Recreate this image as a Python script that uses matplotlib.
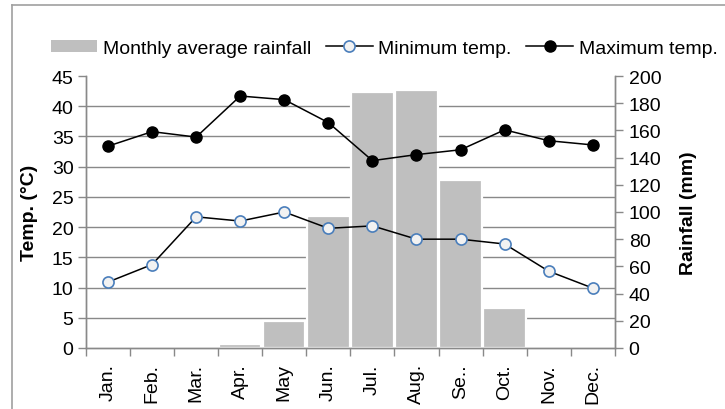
import matplotlib.pyplot as plt
import numpy as np
from matplotlib.lines import Line2D
from matplotlib.patches import Patch

plt.rcParams['font.family'] = ['Liberation Sans', 'DejaVu Sans']

months = ['Jan.', 'Feb.', 'Mar.', 'Apr.', 'May', 'Jun.', 'Jul.', 'Aug.', 'Se..', 'Oct.', 'Nov.', 'Dec.']
rainfall = [0, 0, 0, 3, 20, 97, 188, 190, 123.5, 29.5, 0, 0]
min_temp = [10.9, 13.8, 21.7, 21.0, 22.5, 19.8, 20.2, 18.0, 18.0, 17.2, 12.7, 9.9]
max_temp = [33.4, 35.8, 34.9, 41.7, 41.1, 37.3, 31.0, 32.0, 32.8, 36.1, 34.3, 33.6]

gray = '#898989'
fs = 14
x = np.arange(len(months))

fig = plt.figure(figsize=(7.25, 4.1), dpi=100)
ax1 = fig.add_axes([0.1186, 0.149, 0.7294, 0.663])
ax2 = ax1.twinx()

# bars on the rainfall axis, behind the temperature lines
ax2.bar(x, rainfall, width=0.96, color='#BFBFBF', edgecolor='white', linewidth=1.6, zorder=2)
ax2.set_ylim(0, 200)
ax2.set_yticks(np.arange(0, 201, 20))
ax2.set_yticks(np.linspace(0, 200, 10), minor=True)
ax2.grid(True, which='minor', color=gray, linewidth=1.0, zorder=0)
ax2.set_axisbelow(True)
ax2.tick_params(axis='y', which='minor', length=0)
ax2.tick_params(axis='y', which='major', direction='out', length=6, color=gray, width=1.0,
                labelsize=fs, pad=4)
ax2.set_ylabel('Rainfall (mm)', fontsize=fs, fontweight='bold')
ax2.yaxis.set_label_coords(1.124, 0.5)

ax1.set_zorder(ax2.get_zorder() + 1)
ax1.patch.set_visible(False)
ax1.plot(x, min_temp, color='black', linewidth=1.1, marker='o', markersize=8,
         markerfacecolor='#F2F2F2', markeredgecolor='#4A7EBB', markeredgewidth=1.2)
ax1.plot(x, max_temp, color='black', linewidth=1.1, marker='o', markersize=8,
         markerfacecolor='black', markeredgecolor='black')
ax1.set_ylim(0, 45)
ax1.set_yticks(np.arange(0, 46, 5))
ax1.set_xlim(-0.5, 11.5)
ax1.set_xticks(x)
ax1.set_xticklabels(months, rotation=90)
ax1.set_xticks(np.arange(-0.5, 12, 1), minor=True)
ax1.tick_params(axis='x', which='major', length=0, labelsize=fs, pad=11)
ax1.tick_params(axis='x', which='minor', direction='out', length=6, color=gray, width=1.0)
ax1.tick_params(axis='y', direction='out', length=6, color=gray, width=1.0, labelsize=fs, pad=3)
ax1.set_ylabel('Temp. (°C)', fontsize=fs, fontweight='bold')
ax1.yaxis.set_label_coords(-0.091, 0.5)

for a in (ax1, ax2):
    a.spines['top'].set_visible(False)
    for s in ('left', 'right', 'bottom'):
        a.spines[s].set_color(gray)
        a.spines[s].set_linewidth(1.0)

handles = [
    Patch(facecolor='#BFBFBF', edgecolor='none'),
    Line2D([], [], color='black', linewidth=1.1, marker='o', markersize=8,
           markerfacecolor='#F2F2F2', markeredgecolor='#4A7EBB', markeredgewidth=1.2),
    Line2D([], [], color='black', linewidth=1.1, marker='o', markersize=8,
           markerfacecolor='black'),
]
labels = ['Monthly average rainfall', 'Minimum temp.', 'Maximum temp.']
fig.legend(handles, labels, loc='center', bbox_to_anchor=(0.53, 0.88), ncol=3,
           frameon=False, fontsize=fs, handlelength=2.4, handleheight=0.6,
           handletextpad=0.3, columnspacing=0.75, borderpad=0)

# outer chart frame (left and top edges visible)
fig.add_artist(Line2D([12 / 725, 12 / 725], [0, 1 - 6 / 410], transform=fig.transFigure,
                      color='#A0A0A0', linewidth=1.2))
fig.add_artist(Line2D([12 / 725, 1], [1 - 6 / 410, 1 - 6 / 410], transform=fig.transFigure,
                      color='#A0A0A0', linewidth=1.2))

fig.savefig('out.png', dpi=100)
